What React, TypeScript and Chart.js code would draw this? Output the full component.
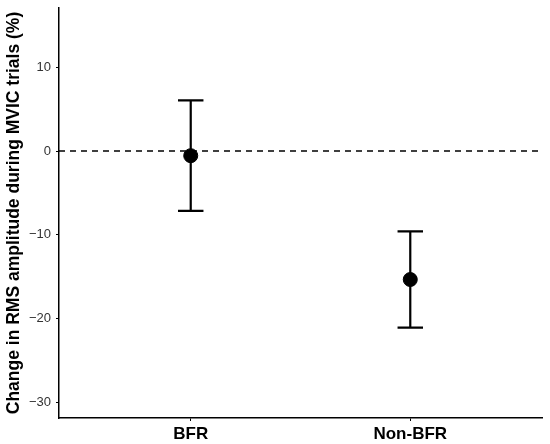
import React, { useEffect, useRef } from "react";
import { Chart, registerables } from "chart.js";

Chart.register(...registerables);

const categories = ["BFR", "Non-BFR"];
const means = [-0.55, -15.35];
const upper = [6.05, -9.6];
const lower = [-7.15, -21.1];
const yTicks = [-30, -20, -10, 0, 10];
const referenceLine = [0, 0];

const errorBarPlugin = {
  id: "errorBars",
  afterDatasetsDraw(chart: any) {
    const { ctx, scales } = chart;
    const xs = scales.x;
    const ys = scales.y;
    ctx.save();
    ctx.strokeStyle = "#000";
    ctx.lineWidth = 2.2;
    ctx.lineCap = "butt";
    categories.forEach((_, i) => {
      const x = xs.getPixelForValue(i + 1);
      const cap = xs.getPixelForValue(i + 1 + 0.058) - x;
      const yt = ys.getPixelForValue(upper[i]);
      const yb = ys.getPixelForValue(lower[i]);
      ctx.beginPath();
      ctx.moveTo(x, yt);
      ctx.lineTo(x, yb);
      ctx.moveTo(x - cap, yt);
      ctx.lineTo(x + cap, yt);
      ctx.moveTo(x - cap, yb);
      ctx.lineTo(x + cap, yb);
      ctx.stroke();
    });
    ctx.restore();
  },
};

export default function App() {
  const ref = useRef<HTMLCanvasElement>(null);
  useEffect(() => {
    document.body.style.margin = "0";
    const chart = new Chart(ref.current!, {
      type: "scatter",
      data: {
        datasets: [
          {
            type: "line",
            data: [
              { x: 0.4, y: referenceLine[0] },
              { x: 2.6, y: referenceLine[1] },
            ],
            borderColor: "#000",
            borderWidth: 1.5,
            borderDash: [6, 5],
            pointRadius: 0,
            order: 3,
          } as any,
          {
            data: means.map((m, i) => ({ x: i + 1, y: m })),
            backgroundColor: "#000",
            borderColor: "#000",
            pointRadius: 7,
            pointHoverRadius: 7,
            order: 1,
          },
        ],
      },
      plugins: [errorBarPlugin],
      options: {
        animation: false,
        responsive: false,
        devicePixelRatio: 1,
        layout: { padding: { left: 0, right: 6, top: 6, bottom: 0 } },
        plugins: { legend: { display: false }, tooltip: { enabled: false } },
        scales: {
          x: {
            type: "linear",
            min: 0.4,
            max: 2.6,
            afterBuildTicks: (s: any) => {
              s.ticks = categories.map((_, i) => ({ value: i + 1 }));
            },
            afterFit: (s: any) => {
              s.height = 26;
              s.paddingLeft = 0;
              s.paddingRight = 0;
            },
            ticks: {
              callback: (v: any) => categories[Number(v) - 1] ?? "",
              color: "#000",
              font: { family: "Liberation Sans", size: 17, weight: "bold" },
              padding: 3,
              autoSkip: false,
              maxRotation: 0,
            },
            grid: {
              display: true,
              drawOnChartArea: false,
              drawTicks: true,
              tickLength: 3,
              color: "#000",
              lineWidth: 1,
            },
            border: { display: true, color: "#000", width: 1.5 },
          },
          y: {
            type: "linear",
            min: -31.9,
            max: 17.1,
            afterBuildTicks: (s: any) => {
              s.ticks = yTicks.map((v) => ({ value: v }));
            },
            afterFit: (s: any) => {
              s.width = 59;
              s.paddingTop = 0;
              s.paddingBottom = 0;
            },
            ticks: {
              callback: (v: any) => (Number(v) < 0 ? "\u2212" + Math.abs(Number(v)) : String(v)),
              color: "#333",
              font: { family: "Liberation Sans", size: 13 },
              padding: 5,
            },
            grid: {
              display: true,
              drawOnChartArea: false,
              drawTicks: true,
              tickLength: 3,
              color: "#000",
              lineWidth: 1,
            },
            border: { display: true, color: "#000", width: 1.5 },
            title: {
              display: true,
              text: "Change in RMS amplitude during MVIC trials (%)",
              color: "#000",
              font: { family: "Liberation Sans", size: 17.5, weight: "bold" },
              padding: { top: 4, bottom: 2 },
            },
          },
        },
      },
    });
    return () => chart.destroy();
  }, []);
  return (
    <div style={{ width: 550, height: 444 }}>
      <canvas ref={ref} width={550} height={444} />
    </div>
  );
}
